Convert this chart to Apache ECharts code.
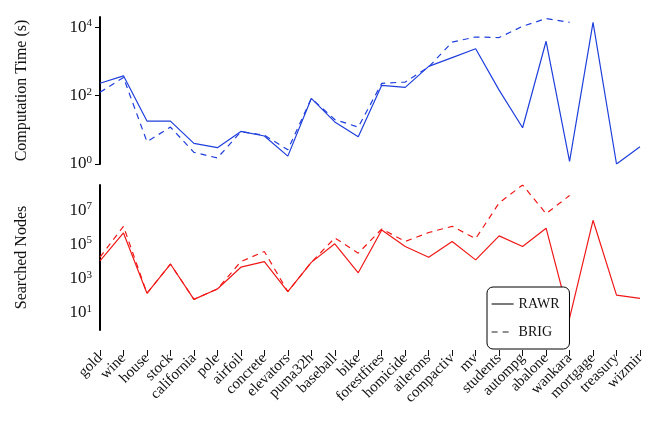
<!DOCTYPE html>
<html><head><meta charset="utf-8">
<script src="https://cdn.jsdelivr.net/npm/echarts@6/dist/echarts.min.js"></script>
<style>html,body{margin:0;background:#fff}#main{width:650px;height:422px}</style>
</head><body><div id="main"></div>
<script>
// 数据
var categories = ['gold','wine','house','stock','california','pole','airfoil','concrete','elevators','puma32h','baseball','bike','forestfires','homicide','ailerons','compactiv','mv','students','autompg','abalone','wankara','mortgage','treasury','wizmir'];
var timeRAWR = [230,380,18,18,4,3,9,6.6,1.7,83,17,6.3,200,175,720,1300,2350,145,11.5,3900,1.2,14000,1.0,3.2];
var timeBRIG = [125,340,4.5,12,2.2,1.5,8.8,7,2.6,83,20,12,230,250,690,3700,5200,5000,10700,18000,14000,null,null,null];
var nodesRAWR = [1.1e4,4.7e5,140,7200,62,250,4700,1e4,175,9000,1.1e5,2200,7e5,7.6e4,1.8e4,1.5e5,1.26e4,3.2e5,7.6e4,9e5,5,2.6e6,110,70];
var nodesBRIG = [1.8e4,1.15e6,140,7200,62,250,1e4,3.9e4,175,9000,2.4e5,3.1e4,8e5,1.5e5,5e5,1.15e6,2.2e5,2.7e7,3e8,6.3e6,7.3e7,null,null,null];

var serif = 'Liberation Serif';
function powLabel(v){ return '10{s|' + Math.round(Math.log10(v)) + '}'; }
var rich = { s: { fontSize: 11, verticalAlign: 'top', padding: [0,0,8,0], fontFamily: serif, color: '#111' } };

var chart = echarts.init(document.getElementById('main'));
chart.setOption({
    animation: false,
    textStyle: { fontFamily: serif },
    grid: [
        { left: 100, right: 10, top: 17, height: 147 },
        { left: 100, right: 10, top: 185, height: 145 }
    ],
    xAxis: [
        { gridIndex: 0, type: 'category', data: categories, boundaryGap: false, show: false },
        { gridIndex: 1, type: 'category', data: categories, boundaryGap: false, offset: 20,
          axisLine: { show: false }, axisTick: { show: true, length: 6, lineStyle: { color: '#111' } },
          axisLabel: { interval: 0, rotate: 45, fontSize: 15, color: '#111', fontFamily: serif, margin: 6 } }
    ],
    yAxis: [
        { gridIndex: 0, type: 'log', logBase: 10, min: 1, max: 2e4, interval: 2,
          name: 'Computation Time (s)', nameLocation: 'middle', nameGap: 70,
          nameTextStyle: { fontSize: 16, color: '#111', fontFamily: serif },
          axisLine: { show: true, lineStyle: { color: '#000', width: 2 } },
          axisTick: { show: true, lineStyle: { color: '#000' } },
          splitLine: { show: false },
          axisLabel: { formatter: powLabel, rich: rich, fontSize: 17, color: '#111', fontFamily: serif } },
        { gridIndex: 1, type: 'log', logBase: 10, min: 1, max: 3e8, interval: 1,
          name: 'Searched Nodes', nameLocation: 'middle', nameGap: 70,
          nameTextStyle: { fontSize: 16, color: '#111', fontFamily: serif },
          axisLine: { show: true, lineStyle: { color: '#000', width: 2 } }, axisTick: { show: false },
          splitLine: { show: false },
          axisLabel: { formatter: function (v) { var e = Math.round(Math.log10(v)); return (e % 2 === 1 && e < 8) ? powLabel(v) : ''; },
                       rich: rich, fontSize: 17, color: '#111', fontFamily: serif } }
    ],
    legend: {
        orient: 'vertical', left: 487, top: 287, itemWidth: 22, itemGap: 14,
        padding: [10, 10, 10, 4], borderColor: '#000', borderWidth: 1, borderRadius: 6, backgroundColor: '#fff',
        textStyle: { fontSize: 14, color: '#111', fontFamily: serif },
        itemStyle: { opacity: 0 },
        data: [
            { name: 'RAWR', lineStyle: { color: '#222', type: 'solid', width: 1.2 } },
            { name: 'BRIG', lineStyle: { color: '#222', type: [6, 5], width: 1.2 } }
        ]
    },
    series: [
        { name: 'RAWR', type: 'line', xAxisIndex: 0, yAxisIndex: 0, data: timeRAWR, showSymbol: false, symbol: 'none',
          lineStyle: { color: '#1f3fdc', width: 1.2 }, itemStyle: { color: '#1f3fdc' } },
        { name: 'BRIG', type: 'line', xAxisIndex: 0, yAxisIndex: 0, data: timeBRIG, showSymbol: false, symbol: 'none',
          lineStyle: { color: '#1f3fdc', width: 1.2, type: [6, 5] }, itemStyle: { color: '#1f3fdc' } },
        { name: 'RAWR', type: 'line', xAxisIndex: 1, yAxisIndex: 1, data: nodesRAWR, showSymbol: false, symbol: 'none',
          lineStyle: { color: '#f01818', width: 1.2 }, itemStyle: { color: '#f01818' } },
        { name: 'BRIG', type: 'line', xAxisIndex: 1, yAxisIndex: 1, data: nodesBRIG, showSymbol: false, symbol: 'none',
          lineStyle: { color: '#f01818', width: 1.2, type: [6, 5] }, itemStyle: { color: '#f01818' } }
    ]
});
</script>
</body></html>
